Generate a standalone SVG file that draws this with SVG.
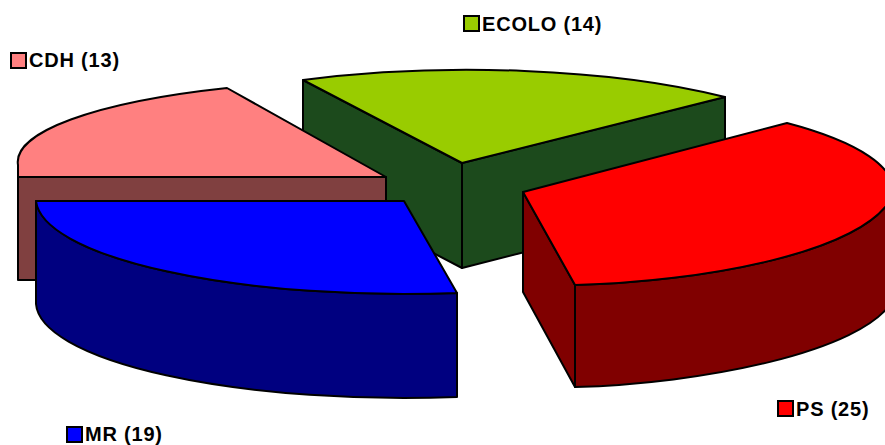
<svg xmlns="http://www.w3.org/2000/svg" width="885" height="445" viewBox="0 0 885 445">
<style>
.o{stroke:#000;stroke-width:2;stroke-linejoin:round}
.lt{font-family:"Liberation Sans",Arial,sans-serif;font-weight:bold;font-size:20px;fill:#000;letter-spacing:0.8px}
.sq{stroke:#000;stroke-width:2}
</style>
<rect width="885" height="445" fill="#fff"/>
<g id="ecolo">
 <path class="o" fill="#1C4A1C" d="M303,80 L462,163 L462,268 L303,185 Z"/>
 <path class="o" fill="#1C4A1C" d="M462,163 L725,97 L725,201 L462,268 Z"/>
 <path class="o" fill="#99CC00" d="M462,163 L303,80 A368,96 0 0 1 725,97 Z"/>
</g>
<g id="cdh">
 <path class="o" fill="#804040" d="M18,177 L386,177 L386,280 L18,280 Z"/>
 <path class="o" fill="#FF8080" d="M386,177 L18,177 L18,165 A368,82 0 0 1 227,88 Z"/>
</g>
<g id="ps">
 <path class="o" fill="#800000" d="M523,192 L575,285 L575,387 L523,292 Z"/>
 <path class="o" fill="#800000" d="M575,285 C700,282 866,253 893,195 L893,300 C864,352 700,384 575,387 Z"/>
 <path class="o" fill="#FF0000" d="M523,192 L787,123 A368,96 0 0 1 893,195 C866,253 700,282 575,285 Z"/>
</g>
<g id="mr">
 <path class="o" fill="#000080" d="M36,201 A368,96 0 0 0 457,293 L457,397 A368,96 0 0 1 36,304 Z"/>
 <path class="o" fill="#0000FF" d="M404,201 L36,201 A368,96 0 0 0 457,293 Z"/>
</g>
<g id="legend-ecolo">
 <rect class="sq" x="464" y="16" width="15" height="15" fill="#99CC00"/>
 <text class="lt" x="482" y="31">ECOLO (14)</text>
</g>
<g id="legend-cdh">
 <rect class="sq" x="11" y="53" width="15" height="15" fill="#FF8080"/>
 <text class="lt" x="29" y="67">CDH (13)</text>
</g>
<g id="legend-ps">
 <rect class="sq" x="778" y="401" width="15" height="15" fill="#FF0000"/>
 <text class="lt" x="796" y="416">PS (25)</text>
</g>
<g id="legend-mr">
 <rect class="sq" x="67" y="427" width="15" height="15" fill="#0000FF"/>
 <text class="lt" x="85" y="441">MR (19)</text>
</g>
</svg>
